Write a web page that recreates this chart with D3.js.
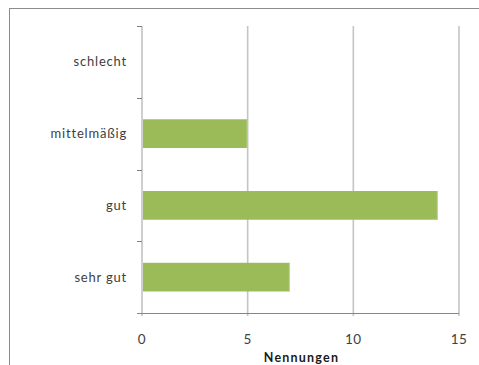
<!DOCTYPE html>
<html>
<head>
<meta charset="utf-8">
<script src="https://cdn.jsdelivr.net/npm/d3@7"></script>
<style>
  html, body { margin: 0; padding: 0; background: #fff; }
  svg { display: block; }
  text { font-family: Lato, "Open Sans", sans-serif; }
</style>
</head>
<body>
<svg id="chart" width="479" height="365"></svg>
<script>
// Ratings (top to bottom) and number of mentions per rating
const categories = ["schlecht", "mittelmäßig", "gut", "sehr gut"];
const mentions = [0, 5, 14, 7];
const xTicks = [0, 5, 10, 15];
const xTitle = "Nennungen";

const svg = d3.select("#chart");
const plot = { left: 142, right: 459, top: 26, bottom: 313 };

// Chart frame
svg.append("rect")
  .attr("x", 9.5).attr("y", 8.5)
  .attr("width", 490).attr("height", 380)
  .attr("fill", "#fff")
  .attr("stroke", "#8c8c8c").attr("stroke-width", 1);

const x = d3.scaleLinear().domain([0, 15]).range([plot.left, plot.right]);
const y = d3.scaleBand().domain(categories).range([plot.top, plot.bottom]).paddingInner(0.6).paddingOuter(0.3);
const yBand = d3.scaleBand().domain(categories).range([plot.top, plot.bottom]);

// Vertical gridlines
svg.append("g").selectAll("line")
  .data(xTicks.filter(d => d > 0))
  .join("line")
  .attr("x1", d => x(d)).attr("x2", d => x(d))
  .attr("y1", plot.top).attr("y2", plot.bottom + 3)
  .attr("stroke", "#c4c4c4").attr("stroke-width", 1.6);

// Bars
const bars = svg.append("g").selectAll("g")
  .data(categories.map((c, i) => ({ c, v: mentions[i] })))
  .join("g");
bars.append("rect")
  .attr("x", x(0))
  .attr("y", d => y(d.c))
  .attr("width", d => x(d.v) - x(0))
  .attr("height", y.bandwidth())
  .attr("fill", "#9bbb59");
bars.filter(d => d.v > 0).append("line")
  .attr("x1", d => x(d.v) - 0.5).attr("x2", d => x(d.v) - 0.5)
  .attr("y1", d => y(d.c)).attr("y2", d => y(d.c) + y.bandwidth())
  .attr("stroke", "#c3da8f").attr("stroke-width", 1);

// Category axis (left)
svg.append("line")
  .attr("x1", plot.left).attr("x2", plot.left)
  .attr("y1", plot.top).attr("y2", plot.bottom + 3)
  .attr("stroke", "#cfcfcf").attr("stroke-width", 2);
const boundaries = categories.map(c => yBand(c)).concat([plot.bottom]);
svg.append("g").selectAll("line")
  .data(boundaries)
  .join("line")
  .attr("x1", plot.left - 5).attr("x2", plot.left)
  .attr("y1", d => Math.round(d) + 0.5).attr("y2", d => Math.round(d) + 0.5)
  .attr("stroke", "#7f7f7f").attr("stroke-width", 1);
svg.append("g").selectAll("text")
  .data(categories)
  .join("text")
  .attr("x", 127)
  .attr("y", d => yBand(d) + yBand.bandwidth() / 2)
  .attr("dy", "0.35em")
  .attr("text-anchor", "end")
  .attr("font-size", 13)
  .attr("letter-spacing", 0.8)
  .attr("fill", "#404040")
  .text(d => d);

// Value axis (bottom)
svg.append("line")
  .attr("x1", plot.left - 5).attr("x2", plot.right)
  .attr("y1", plot.bottom + 0.5).attr("y2", plot.bottom + 0.5)
  .attr("stroke", "#868686").attr("stroke-width", 1);
svg.append("g").selectAll("text")
  .data(xTicks)
  .join("text")
  .attr("x", d => x(d))
  .attr("y", 339)
  .attr("dy", "0.35em")
  .attr("text-anchor", "middle")
  .attr("font-size", 13.5)
  .attr("letter-spacing", 0.5)
  .attr("fill", "#404040")
  .text(d => d);
svg.append("text")
  .attr("x", (plot.left + plot.right) / 2 + 1)
  .attr("y", 358)
  .attr("dy", "0.35em")
  .attr("text-anchor", "middle")
  .attr("font-size", 12.5)
  .attr("font-weight", "bold")
  .attr("letter-spacing", 1.2)
  .attr("fill", "#1a1a1a")
  .text(xTitle);
</script>
</body>
</html>
